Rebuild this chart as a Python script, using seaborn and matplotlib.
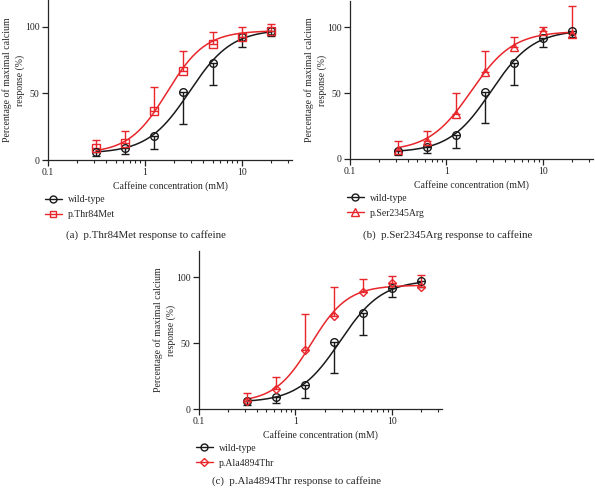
import numpy as np
import pandas as pd
import matplotlib
matplotlib.use("Agg")
import matplotlib.pyplot as plt
import seaborn as sns
from matplotlib.lines import Line2D
from matplotlib.ticker import LogLocator, FixedLocator, NullFormatter

# Caffeine doses (mM)
conc = [0.3125, 0.625, 1.25, 2.5, 5, 10, 20]

# Wild-type mean response and lower error bar end
wt_mean = [6, 9, 18, 51, 73, 92, 97]
wt_low = [3, 4.5, 8, 27, 56, 85, 93]

# Mutants: mean response and upper error bar end
t84m_mean = [9, 13, 37, 67, 87, 92, 97]
t84m_high = [15, 22, 55, 82, 96, 100, 102]

s2345r_mean = [7, 14, 34, 66, 85, 97, 95]
s2345r_high = [14, 21, 50, 82, 93, 100, 116]

a4894t_mean = [6, 15, 45, 71, 89, 96, 93]
a4894t_high = [12, 24, 72, 93, 99, 101, 102]

# Fitted dose-response curves: bottom, top, EC50, Hill slope
wt_fit = [5, 98, 2.9, 2.0]
t84m_fit = [5, 97, 1.7, 2.2]
s2345r_fit = [6, 97, 1.8, 2.0]
a4894t_fit = [5, 94, 1.45, 2.3]

RED = "#e8262b"
BLACK = "#1a1a1a"

sns.set_style("ticks")
plt.rcParams["font.family"] = ["Liberation Serif", "DejaVu Serif"]
plt.rcParams["axes.linewidth"] = 0.9


def hill_curve(params):
    bottom, top, ec50, slope = params
    x = np.logspace(np.log10(0.3125), np.log10(20), 200)
    y = bottom + (top - bottom) / (1 + (ec50 / x) ** slope)
    return pd.DataFrame({"x": x, "y": y})


def draw_panel(ax, mut_mean, mut_high, mut_fit, marker, msize, mut_name, caption, cap_y):
    # fitted curves
    sns.lineplot(data=hill_curve(wt_fit), x="x", y="y", ax=ax, color=BLACK, lw=1.1)
    sns.lineplot(data=hill_curve(mut_fit), x="x", y="y", ax=ax, color=RED, lw=1.1)

    # error bars: wild-type downwards, mutant upwards
    wt_err = np.array(wt_mean) - np.array(wt_low)
    ax.errorbar(conc, wt_mean, yerr=[wt_err, np.zeros(len(conc))], fmt="none",
                ecolor=BLACK, elinewidth=1.0, capsize=3, capthick=1.0)
    mut_err = np.array(mut_high) - np.array(mut_mean)
    ax.errorbar(conc, mut_mean, yerr=[np.zeros(len(conc)), mut_err], fmt="none",
                ecolor=RED, elinewidth=1.0, capsize=3, capthick=1.0)

    # points
    ax.plot(conc, wt_mean, ls="none", marker="o", ms=5.5, mfc="none",
            mec=BLACK, mew=1.0)
    ax.plot(conc, mut_mean, ls="none", marker=marker, ms=msize, mfc="none",
            mec=RED, mew=1.0)

    ax.set_xscale("log")
    ax.set_xlim(0.1, 33)
    ax.set_ylim(0, 120)
    ax.xaxis.set_major_locator(FixedLocator([0.1, 1, 10]))
    ax.set_xticklabels(["0.1", "1", "10"])
    ax.xaxis.set_minor_locator(LogLocator(base=10, subs=np.arange(2, 10)))
    ax.xaxis.set_minor_formatter(NullFormatter())
    ax.set_yticks([0, 50, 100])
    ax.tick_params(axis="both", which="major", labelsize=7, length=4, width=0.9,
                   pad=2, colors="#222222")
    ax.tick_params(axis="x", which="minor", length=2.5, width=0.8)
    sns.despine(ax=ax)
    ax.set_xlabel("Caffeine concentration (mM)", fontsize=7, labelpad=3)
    ax.set_ylabel("Percentage of maximal calcium\nresponse (%)", fontsize=7,
                  labelpad=0, linespacing=1.45)

    handles = [
        Line2D([], [], color=BLACK, lw=1.0, marker="o", ms=5, mfc="none", mec=BLACK),
        Line2D([], [], color=RED, lw=1.0, marker=marker, ms=msize - 0.5, mfc="none",
               mec=RED),
    ]
    ax.legend(handles, ["wild-type", mut_name], loc="upper left",
              bbox_to_anchor=(-0.03, -0.195), frameon=False, fontsize=7,
              handlelength=1.8, handletextpad=0.6, labelspacing=0.6,
              borderaxespad=0)
    ax.text(0.4, cap_y, caption, transform=ax.transAxes, ha="center", va="center",
            fontsize=7.8)


W, H = 595, 490
fig = plt.figure(figsize=(W / 100, H / 100), dpi=100)

ax_a = fig.add_axes([48 / W, (H - 160) / H, 244 / W, 160 / H])
ax_b = fig.add_axes([350 / W, (H - 159) / H, 243 / W, 158 / H])
ax_c = fig.add_axes([199 / W, (H - 409) / H, 243 / W, 158 / H])

draw_panel(ax_a, t84m_mean, t84m_high, t84m_fit, "s", 5.5, "p.Thr84Met",
           "(a)  p.Thr84Met response to caffeine", -75 / 160)
draw_panel(ax_b, s2345r_mean, s2345r_high, s2345r_fit, "^", 6, "p.Ser2345Arg",
           "(b)  p.Ser2345Arg response to caffeine", -76 / 158)
draw_panel(ax_c, a4894t_mean, a4894t_high, a4894t_fit, "D", 4.5, "p.Ala4894Thr",
           "(c)  p.Ala4894Thr response to caffeine", -72 / 158)

fig.savefig("out.png", dpi=100)
